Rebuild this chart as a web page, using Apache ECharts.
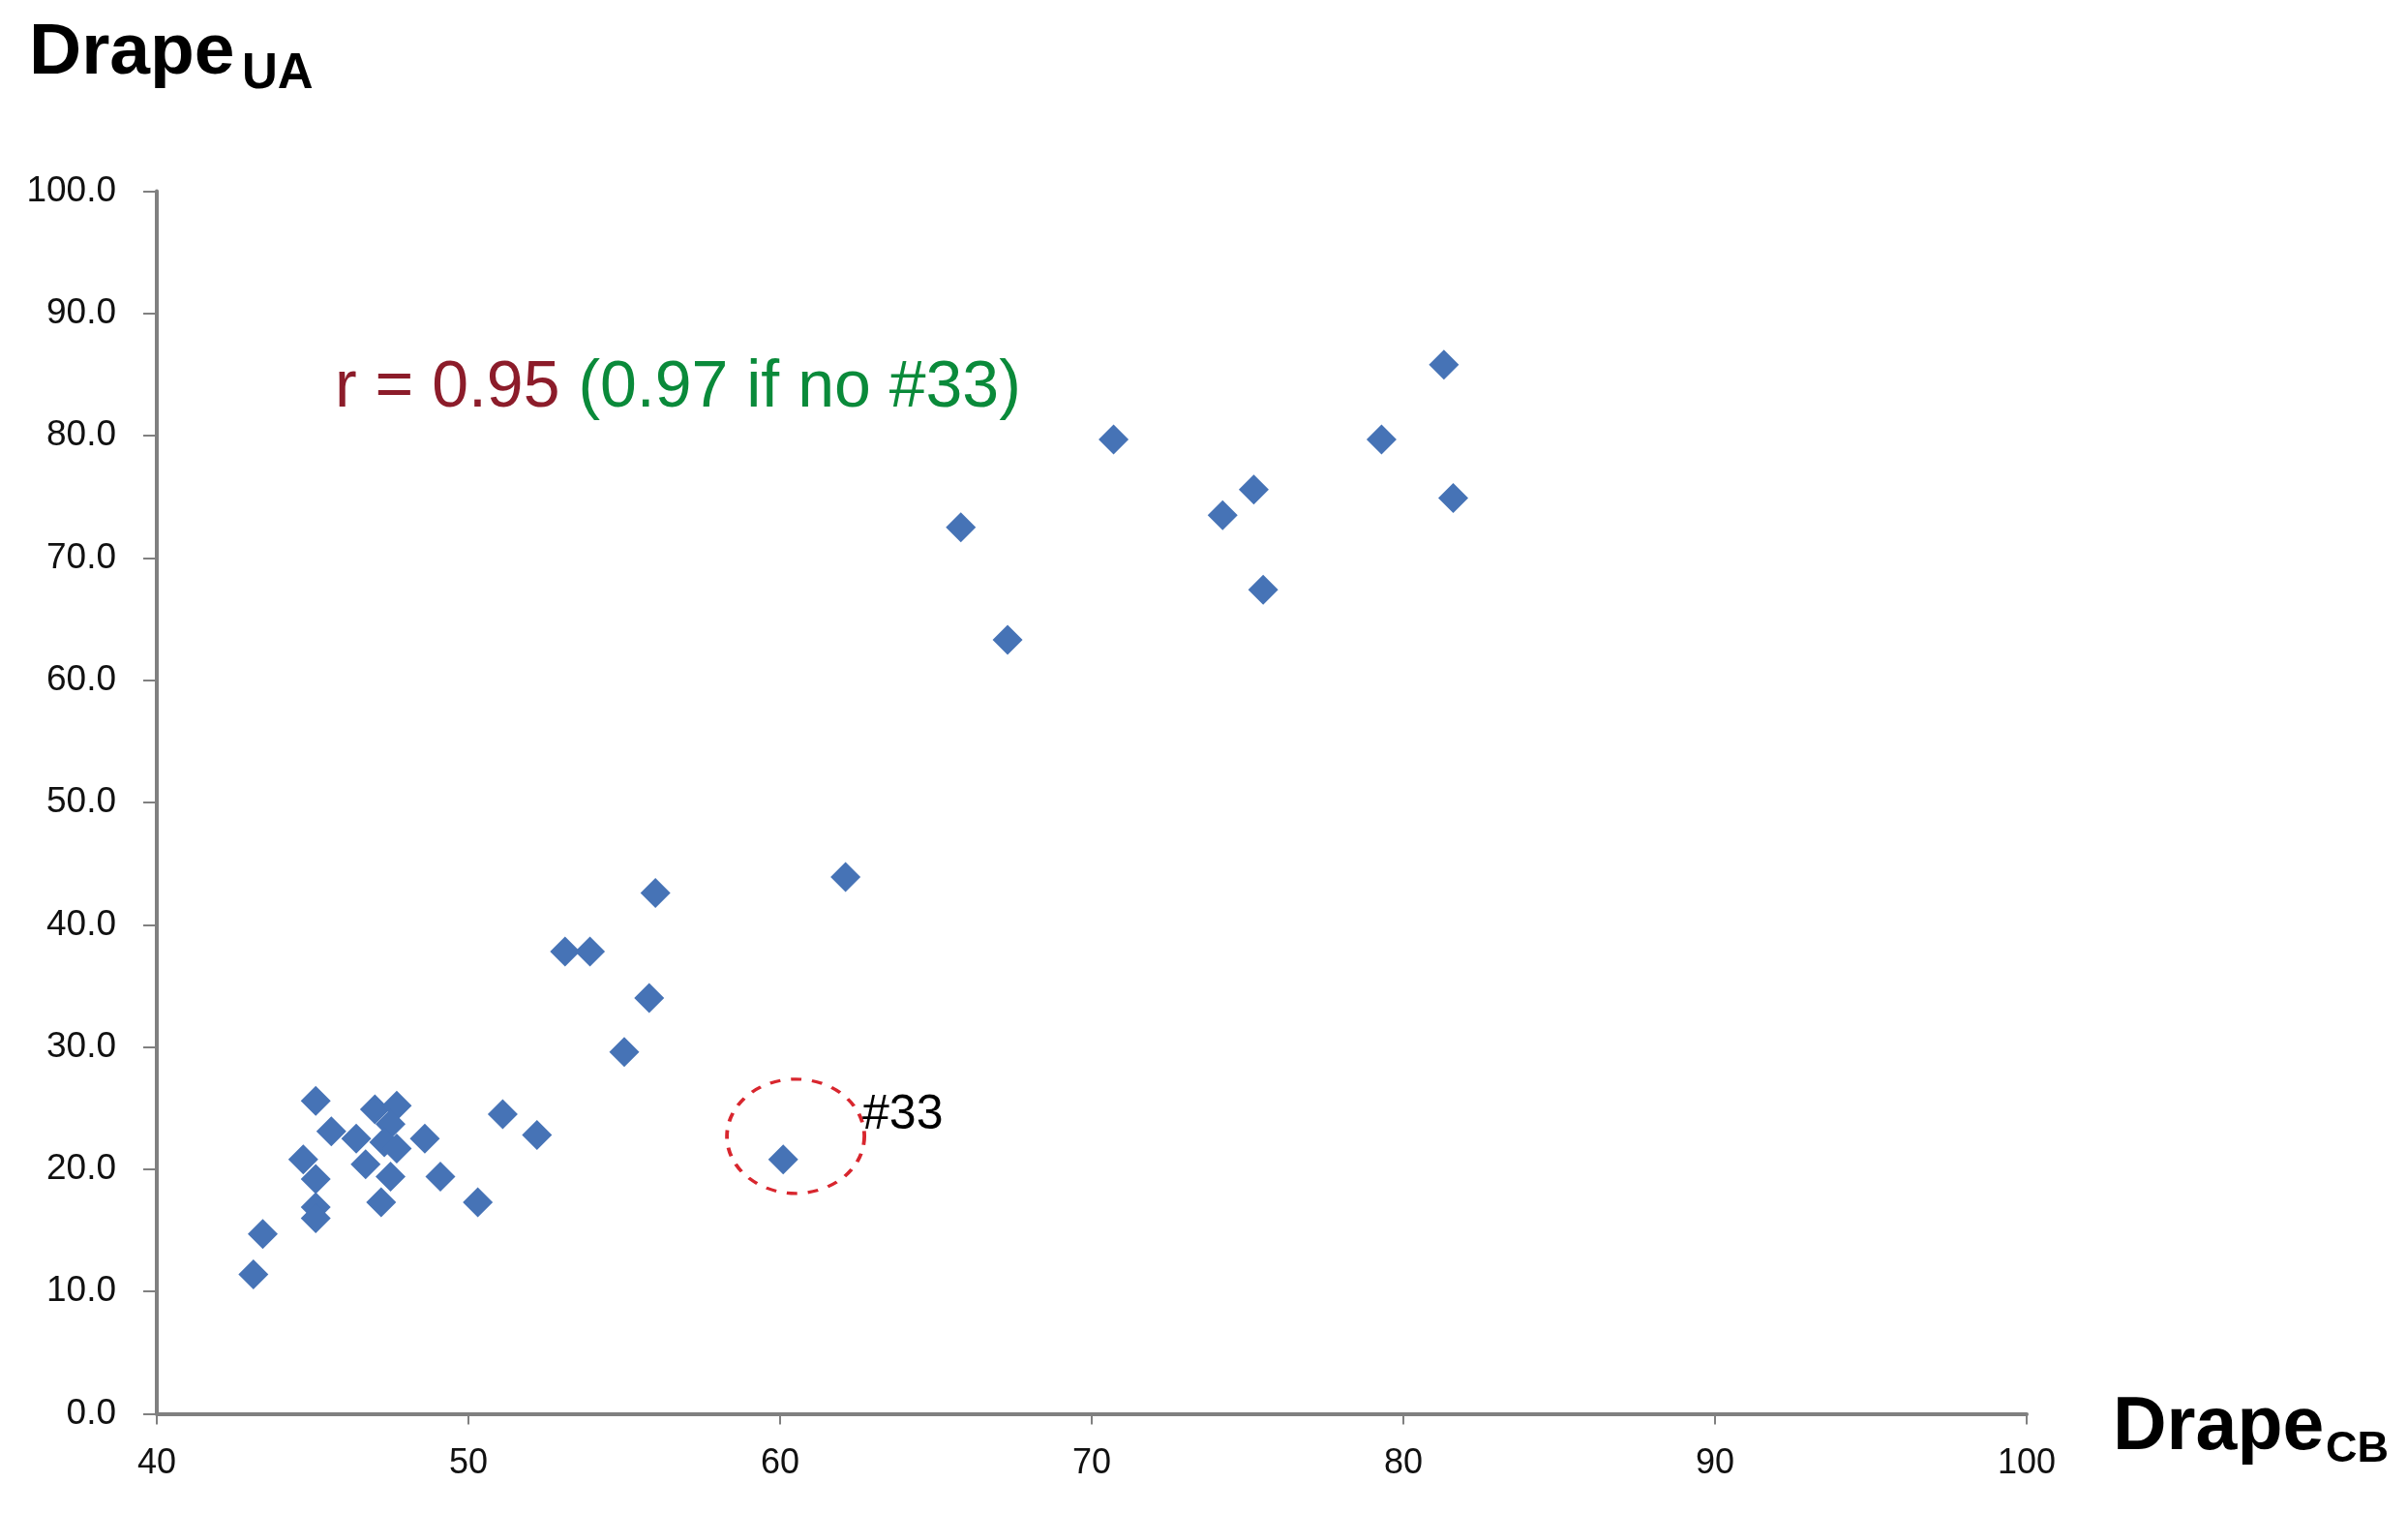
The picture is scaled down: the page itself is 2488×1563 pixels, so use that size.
<!DOCTYPE html>
<html>
<head>
<meta charset="utf-8">
<script src="https://cdn.jsdelivr.net/npm/echarts@6/dist/echarts.min.js"></script>
<style>
html,body{margin:0;padding:0;background:#fff;}
#chart{width:2488px;height:1563px;}
</style>
</head>
<body>
<div id="chart"></div>
<script>
// Drape CB (x) values
const drapeCB = [
  81.3, 70.7, 79.3, 75.2, 81.6, 74.2, 65.8, 75.5, 67.3,
  62.1, 56.0, 53.1, 53.9, 55.8, 55.0, 60.1,
  45.1, 45.6, 44.7, 45.1, 45.1, 45.1, 43.4, 43.1, 46.4, 46.7, 47.0,
  47.7, 47.5, 47.3, 47.7, 47.5, 47.2, 48.6, 49.1, 50.3, 51.1, 52.2
];
// Drape UA (y) values
const drapeUA = [
  85.8, 79.7, 79.7, 75.6, 74.9, 73.5, 72.5, 67.4, 63.3,
  43.9, 42.6, 37.8, 37.8, 34.0, 29.6, 20.8,
  25.6, 23.1, 20.8, 19.2, 16.9, 16.0, 14.7, 11.4, 22.5, 20.4, 24.9,
  25.2, 23.7, 22.2, 21.7, 19.4, 17.3, 22.5, 19.4, 17.3, 24.5, 22.8
];
// outlier highlight (#33) circle centre
const outlierCentre = [60.5, 22.7];
const outlierLabel = '#33';
const xTicks = {min: 40, max: 100, interval: 10};
const yTicks = {min: 0, max: 100, interval: 10};
const corrMain = 'r = 0.95 ';
const corrAlt = '(0.97 if no #33)';

const chart = echarts.init(document.getElementById('chart'));
const pts = drapeCB.map((x, i) => [x, drapeUA[i]]);
const axisGray = '#808080';
const fam = '"Liberation Sans", Arial, sans-serif';

chart.setOption({
  animation: false,
  backgroundColor: '#fff',
  grid: {left: 162, right: 394, top: 197.5, bottom: 102.5},
  xAxis: {
    type: 'value', min: xTicks.min, max: xTicks.max, interval: xTicks.interval,
    splitLine: {show: false},
    axisLine: {show: true, onZero: false, lineStyle: {color: axisGray, width: 4}},
    axisTick: {show: true, inside: false, length: 11, lineStyle: {color: axisGray, width: 2}},
    axisLabel: {fontSize: 36, fontFamily: fam, color: '#111', margin: 34}
  },
  yAxis: {
    type: 'value', min: yTicks.min, max: yTicks.max, interval: yTicks.interval,
    splitLine: {show: false},
    axisLine: {show: true, onZero: false, lineStyle: {color: axisGray, width: 4}},
    axisTick: {show: true, inside: false, length: 14, lineStyle: {color: axisGray, width: 2}},
    axisLabel: {fontSize: 37, fontFamily: fam, color: '#111', margin: 42,
      formatter: v => v.toFixed(1)}
  },
  series: [
    {
      type: 'scatter',
      data: pts,
      symbol: 'diamond',
      symbolSize: [31, 31],
      itemStyle: {color: '#4673b6', opacity: 1},
      silent: true,
      z: 3
    },
    {
      type: 'scatter',
      data: [outlierCentre],
      symbol: 'circle',
      symbolSize: [142, 118],
      itemStyle: {color: 'rgba(0,0,0,0)', borderColor: '#d8262e', borderWidth: 3.5, borderType: [10, 10], opacity: 1},
      label: {show: true, position: 'right', distance: -4, offset: [0, -22],
        formatter: outlierLabel, fontSize: 50, fontFamily: fam, color: '#000'},
      silent: true,
      z: 2
    }
  ],
  graphic: [
    {type: 'text', x: 30, y: 55.7, style: {text: 'Drape', font: 'bold 75px ' + fam, fill: '#000', textAlign: 'left', textVerticalAlign: 'middle'}},
    {type: 'text', x: 250, y: 77.3, style: {text: 'UA', font: 'bold 51px ' + fam, fill: '#000', textAlign: 'left', textVerticalAlign: 'middle'}},
    {type: 'text', x: 2183, y: 1475.4, style: {text: 'Drape', font: 'bold 77px ' + fam, fill: '#000', textAlign: 'left', textVerticalAlign: 'middle'}},
    {type: 'text', x: 2403, y: 1497.4, style: {text: 'CB', font: 'bold 45px ' + fam, fill: '#000', textAlign: 'left', textVerticalAlign: 'middle'}},
    {type: 'text', x: 346, y: 401, style: {
      text: '{a|' + corrMain + '}{b|' + corrAlt + '}',
      rich: {
        a: {fontSize: 68, fontFamily: fam, fill: '#8c1c2a', color: '#8c1c2a'},
        b: {fontSize: 68, fontFamily: fam, fill: '#0a8a3a', color: '#0a8a3a'}
      },
      textAlign: 'left', textVerticalAlign: 'middle'}}
  ]
});
</script>
</body>
</html>
